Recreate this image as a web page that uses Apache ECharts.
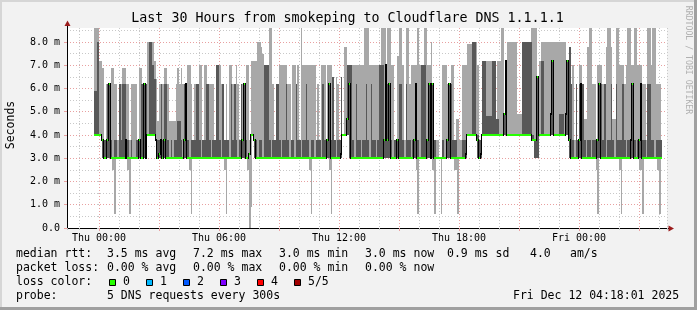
<!DOCTYPE html>
<html><head><meta charset="utf-8">
<script src="https://cdn.jsdelivr.net/npm/echarts@6/dist/echarts.min.js"></script>
<style>html,body{margin:0;padding:0;background:#f2f2f2}#c{width:697px;height:310px}</style>
</head><body><div id="c"></div>
<script>
// Time: hours relative to Thu 00:00; first sample Wed 23:45, one sample every 5 minutes
const startHour = -0.25;
const stepHours = 5 / 60;
const axisMinHour = -1.6, axisMaxHour = 28.4;
const yMaxMs = 8.6;

// Ping values (ms) per 5-minute step, sorted pings: max, 4th, median, 2nd, min
const pingMax = [
8.6,8.6,8.6,7.2,7.2,6.9,3.8,6.2,6.2,6.2,
6.9,6.9,6.2,6.2,3.8,6.2,6.2,6.9,6.9,6.2,
6.2,3.8,6.2,6.2,6.2,6.2,3.8,6.9,6.9,6.2,
6.2,6.2,8.0,8.0,8.0,8.0,7.2,6.4,4.6,6.2,
6.2,6.2,6.9,6.9,6.2,4.6,4.6,4.6,4.6,6.2,
6.9,6.2,6.9,6.2,6.2,6.2,7.0,7.0,6.2,3.8,
6.2,6.2,6.2,7.0,7.0,3.8,7.0,7.0,6.2,6.2,
6.2,6.2,3.8,7.0,7.0,7.0,6.2,6.2,3.8,6.2,
3.8,7.0,7.0,6.2,3.8,7.0,6.2,3.8,6.2,6.2,
6.2,7.0,7.0,3.8,7.2,7.2,7.2,7.2,8.0,8.0,
7.8,7.5,7.0,7.0,7.0,8.6,8.6,6.2,3.8,6.2,
6.2,7.0,7.0,7.0,7.0,7.0,6.2,6.2,3.8,7.0,
7.0,6.2,7.0,3.8,8.6,7.0,7.0,7.0,7.0,7.0,
7.0,7.0,7.0,3.8,6.2,3.8,7.0,7.0,7.0,3.8,
7.0,7.0,7.0,6.5,3.8,6.5,6.2,3.8,6.5,4.0,
7.8,7.8,7.0,7.0,7.0,7.0,7.0,7.0,7.0,7.0,
7.0,7.0,8.6,8.6,8.6,7.0,7.0,7.0,7.0,7.0,
7.0,7.0,8.6,8.6,8.6,7.0,8.6,8.6,7.0,7.0,
3.8,3.8,7.4,8.6,8.6,7.0,3.8,8.6,8.6,6.2,
7.0,7.0,7.0,7.0,8.6,7.0,7.0,7.0,8.6,8.6,
7.0,7.0,8.0,6.2,3.8,3.8,3.8,3.0,3.0,7.0,
7.0,7.0,6.2,6.2,7.0,7.0,3.8,4.7,4.7,3.8,
3.8,7.0,7.0,7.0,7.9,7.9,7.9,8.0,8.0,8.0,
7.0,3.8,3.8,7.2,7.2,7.2,7.2,7.2,7.2,7.2,
7.2,4.7,7.2,7.2,8.6,8.6,4.9,7.2,8.0,8.0,
8.0,8.0,8.0,8.0,4.9,4.9,4.9,8.0,8.0,8.0,
8.0,8.0,8.6,8.6,8.6,8.6,6.5,7.2,8.0,8.0,
8.0,8.0,8.0,8.0,8.0,8.0,8.0,8.0,8.0,8.0,
8.0,8.0,8.0,7.2,7.2,7.8,6.2,7.0,3.8,6.2,
3.8,7.0,7.0,6.2,4.7,4.7,7.8,8.6,8.6,6.2,
6.2,3.8,7.0,7.0,7.0,6.2,6.2,7.8,8.6,8.6,
7.8,4.7,4.7,8.6,8.6,7.0,7.0,7.0,6.2,7.0,
8.6,8.6,7.0,7.0,8.6,8.6,7.0,7.0,7.0,6.2,
6.2,3.8,8.6,8.6,7.0,8.6,8.6,6.2,6.2,6.2,
3.8];
const pingQ3 = [
5.9,5.9,8.0,4.0,4.0,3.8,3.8,3.8,6.2,6.2,
3.8,3.0,3.8,3.8,3.0,6.2,3.8,6.2,6.2,3.8,
3.8,3.0,3.8,3.0,3.0,3.8,3.8,3.8,6.2,6.2,
6.2,6.2,4.0,8.0,8.0,7.0,6.4,3.8,3.8,3.8,
6.2,3.8,6.2,6.2,3.8,3.0,3.8,3.0,3.8,3.8,
4.6,4.6,3.8,3.0,6.2,6.2,3.8,3.0,3.8,3.8,
3.8,6.2,6.2,3.8,3.0,3.8,3.8,6.2,6.2,3.8,
3.0,3.8,3.8,7.0,7.0,3.8,3.0,6.2,3.8,3.8,
3.8,3.0,6.2,3.8,6.2,3.8,3.0,3.8,6.2,3.8,
6.2,3.8,3.0,3.2,4.0,4.0,3.8,3.8,3.0,3.8,
3.8,3.0,7.0,7.0,7.0,3.8,3.0,3.8,3.8,6.2,
6.2,3.8,3.0,3.8,3.8,6.2,3.8,3.0,3.8,3.8,
3.0,6.2,3.8,3.8,3.0,3.8,3.8,6.2,3.8,3.0,
3.8,3.8,3.0,3.8,3.8,3.8,3.0,6.2,3.8,3.8,
3.8,6.2,3.8,6.5,3.8,3.0,3.8,3.8,6.5,4.0,
4.0,4.7,7.0,7.0,7.0,3.8,3.0,6.2,3.8,3.8,
3.0,3.8,3.8,6.2,3.8,3.0,6.2,3.8,3.8,3.0,
3.8,7.0,7.0,7.0,3.8,7.0,6.2,6.2,3.8,3.0,
3.8,3.8,3.8,6.2,6.2,3.8,3.0,6.2,3.8,3.8,
3.0,3.8,3.8,6.2,3.8,3.0,7.0,7.0,7.0,3.8,
3.8,6.2,6.2,6.2,3.8,3.0,3.0,3.0,3.0,3.8,
3.0,3.8,3.8,6.2,6.2,3.8,3.8,3.8,3.0,3.0,
3.0,3.8,3.8,3.2,4.0,4.0,4.0,8.0,8.0,4.0,
4.0,3.8,3.8,7.2,7.2,4.8,4.8,4.8,4.8,7.2,
7.2,4.7,4.7,4.0,4.0,4.0,4.9,7.2,4.0,4.0,
4.0,4.0,4.0,4.0,4.0,4.0,4.0,8.0,8.0,8.0,
8.0,8.0,8.0,4.0,3.8,3.8,6.5,4.0,7.2,7.2,
4.0,4.0,4.0,4.0,4.9,7.2,4.0,4.0,4.0,4.9,
4.9,4.9,4.0,7.2,7.2,7.8,6.2,3.8,3.0,6.2,
3.8,6.2,6.2,6.2,3.8,3.0,3.8,3.8,3.0,3.8,
3.8,3.8,3.8,6.2,6.2,3.8,6.2,3.0,3.8,3.8,
6.2,3.8,3.0,6.2,3.8,3.8,3.8,6.2,3.8,3.0,
3.8,3.8,3.8,6.2,3.8,3.0,3.8,3.8,6.2,3.8,
3.8,3.0,6.2,6.2,3.8,3.8,3.0,3.8,3.8,3.8,
3.8];
const pingMedian = [
4.0,4.0,4.0,4.0,4.0,3.8,3.0,3.0,3.8,6.2,
3.0,3.0,3.0,3.0,3.0,3.0,3.0,3.0,3.0,3.8,
3.0,3.0,3.0,3.0,3.0,3.0,3.0,3.8,3.0,3.0,
6.2,3.0,4.0,4.0,4.0,4.0,4.0,3.8,3.0,3.2,
3.8,3.0,3.8,3.0,3.0,3.0,3.0,3.0,3.0,3.0,
3.0,3.0,3.0,3.0,3.8,6.2,3.0,3.0,3.0,3.0,
3.0,3.0,3.0,3.0,3.0,3.0,3.0,3.0,3.0,3.0,
3.0,3.0,3.0,3.0,3.0,3.0,3.0,3.0,3.0,3.0,
3.0,3.0,3.0,3.0,3.0,3.0,3.0,3.0,3.0,3.8,
6.2,3.0,3.0,3.2,4.0,4.0,3.8,3.0,3.0,3.0,
3.0,3.0,3.0,3.0,3.0,3.0,3.0,3.0,3.0,3.0,
3.0,3.0,3.0,3.0,3.0,3.0,3.0,3.0,3.0,3.0,
3.0,3.0,3.0,3.0,3.0,3.0,3.0,3.0,3.0,3.0,
3.0,3.0,3.0,3.0,3.0,3.0,3.0,3.0,3.0,3.0,
3.8,6.2,3.0,3.0,3.0,3.0,3.0,3.0,3.2,4.0,
4.0,4.0,4.7,6.2,3.0,3.0,3.0,3.0,3.0,3.0,
3.0,3.0,3.0,3.0,3.0,3.0,3.0,3.0,3.0,3.0,
3.0,3.0,3.0,3.0,3.8,7.0,3.8,6.2,3.0,3.0,
3.0,3.0,3.8,3.0,3.0,3.0,3.0,3.0,3.0,3.0,
3.0,3.0,3.8,6.2,3.0,3.0,3.0,3.0,3.0,3.0,
3.8,6.2,3.0,6.2,3.0,3.0,3.0,3.0,3.0,3.0,
3.0,3.0,3.8,6.2,3.0,3.0,3.0,3.0,3.0,3.0,
3.0,3.0,3.0,3.2,4.0,4.0,4.0,4.0,4.0,4.0,
3.8,3.0,3.2,4.0,4.0,4.0,4.0,4.0,4.0,4.0,
4.0,4.0,4.0,4.0,4.0,4.0,4.9,7.2,4.0,4.0,
4.0,4.0,4.0,4.0,4.0,4.0,4.0,4.0,4.0,4.0,
4.0,4.0,4.0,3.8,3.8,3.8,6.5,4.0,4.0,4.0,
4.0,4.0,4.0,4.0,4.9,7.2,4.0,4.0,4.0,4.0,
4.0,4.0,4.0,4.9,7.2,3.8,3.0,3.0,3.0,3.0,
3.0,3.8,6.2,3.0,3.0,3.0,3.0,3.0,3.0,3.0,
3.0,3.0,3.8,6.2,3.0,3.0,3.0,3.0,3.0,3.0,
3.0,3.0,3.0,3.0,3.0,3.0,3.0,3.0,3.0,3.0,
3.0,3.0,3.8,6.2,3.0,3.0,3.0,3.8,6.2,3.0,
3.0,3.0,3.0,3.0,3.0,3.0,3.0,3.0,3.0,3.0,
3.0];
const pingQ1 = [
4.0,4.0,4.0,4.0,4.0,3.0,3.0,3.0,3.0,3.0,
3.0,3.0,3.0,3.0,3.0,3.0,3.0,3.0,3.0,3.0,
3.0,3.0,3.0,3.0,3.0,3.0,3.0,3.0,3.0,3.0,
3.0,3.0,4.0,4.0,4.0,4.0,4.0,3.0,3.0,3.0,
3.0,3.0,3.0,3.0,3.0,3.0,3.0,3.0,3.0,3.0,
3.0,3.0,3.0,3.0,3.0,3.0,3.0,3.0,3.0,3.0,
3.0,3.0,3.0,3.0,3.0,3.0,3.0,3.0,3.0,3.0,
3.0,3.0,3.0,3.0,3.0,3.0,3.0,3.0,3.0,3.0,
3.0,3.0,3.0,3.0,3.0,3.0,3.0,3.0,3.0,3.0,
3.0,3.0,3.0,3.2,4.0,4.0,3.0,3.0,3.0,3.0,
3.0,3.0,3.0,3.0,3.0,3.0,3.0,3.0,3.0,3.0,
3.0,3.0,3.0,3.0,3.0,3.0,3.0,3.0,3.0,3.0,
3.0,3.0,3.0,3.0,3.0,3.0,3.0,3.0,3.0,3.0,
3.0,3.0,3.0,3.0,3.0,3.0,3.0,3.0,3.0,3.0,
3.0,3.0,3.0,3.0,3.0,3.0,3.0,3.0,3.0,4.0,
4.0,4.0,4.0,3.0,3.0,3.0,3.0,3.0,3.0,3.0,
3.0,3.0,3.0,3.0,3.0,3.0,3.0,3.0,3.0,3.0,
3.0,3.0,3.0,3.0,3.0,3.0,3.0,3.0,3.0,3.0,
3.0,3.0,3.0,3.0,3.0,3.0,3.0,3.0,3.0,3.0,
3.0,3.0,3.0,3.0,3.0,3.0,3.0,3.0,3.0,3.0,
3.0,3.0,3.0,3.0,3.0,3.0,3.0,3.0,3.0,3.0,
3.0,3.0,3.0,3.0,3.0,3.0,3.0,3.0,3.0,3.0,
3.0,3.0,3.0,3.0,4.0,4.0,4.0,4.0,4.0,4.0,
3.0,3.0,3.0,4.0,4.0,4.0,4.0,4.0,4.0,4.0,
4.0,4.0,4.0,4.0,4.0,4.0,4.0,4.0,4.0,4.0,
4.0,4.0,4.0,4.0,4.0,4.0,4.0,4.0,4.0,4.0,
4.0,4.0,4.0,3.8,3.0,3.0,3.0,4.0,4.0,4.0,
4.0,4.0,4.0,4.0,4.0,4.0,4.0,4.0,4.0,4.0,
4.0,4.0,4.0,4.0,4.0,3.0,3.0,3.0,3.0,3.0,
3.0,3.0,3.0,3.0,3.0,3.0,3.0,3.0,3.0,3.0,
3.0,3.0,3.0,3.0,3.0,3.0,3.0,3.0,3.0,3.0,
3.0,3.0,3.0,3.0,3.0,3.0,3.0,3.0,3.0,3.0,
3.0,3.0,3.0,3.0,3.0,3.0,3.0,3.0,3.0,3.0,
3.0,3.0,3.0,3.0,3.0,3.0,3.0,3.0,3.0,3.0,
3.0];
const pingMin = [
4.0,4.0,4.0,4.0,4.0,3.0,3.0,3.0,3.0,3.0,
3.0,2.5,0.6,3.0,3.0,3.0,3.0,3.0,3.0,3.0,
2.5,0.6,3.0,3.0,3.0,3.0,3.0,3.0,3.0,3.0,
3.0,3.0,4.0,4.0,4.0,4.0,4.0,3.0,3.0,3.0,
3.0,3.0,3.0,3.0,3.0,3.0,3.0,3.0,3.0,3.0,
3.0,3.0,3.0,3.0,3.0,3.0,3.0,2.5,0.6,3.0,
3.0,3.0,3.0,3.0,3.0,3.0,3.0,3.0,3.0,3.0,
3.0,3.0,3.0,3.0,3.0,3.0,3.0,3.0,2.5,0.6,
3.0,3.0,3.0,3.0,3.0,3.0,3.0,3.0,3.0,3.0,
3.0,3.0,2.5,0.0,0.9,4.0,3.0,3.0,3.0,3.0,
3.0,3.0,3.0,3.0,3.0,3.0,3.0,3.0,3.0,3.0,
3.0,3.0,3.0,3.0,3.0,3.0,3.0,3.0,3.0,3.0,
3.0,3.0,3.0,3.0,3.0,3.0,3.0,3.0,3.0,2.5,
0.6,3.0,3.0,3.0,3.0,3.0,3.0,3.0,3.0,3.0,
3.0,2.5,0.6,3.0,3.0,3.0,3.0,3.0,3.0,4.0,
4.0,4.0,4.0,3.0,3.0,3.0,3.0,3.0,3.0,3.0,
3.0,3.0,3.0,3.0,3.0,3.0,3.0,3.0,3.0,3.0,
3.0,3.0,3.0,3.0,3.0,3.0,3.0,3.0,3.0,3.0,
3.0,3.0,3.0,3.0,3.0,3.0,3.0,3.0,3.0,3.0,
3.0,3.0,3.0,2.5,0.6,3.0,3.0,3.0,3.0,3.0,
3.0,3.0,3.0,2.5,0.6,3.0,3.0,3.0,0.6,3.0,
3.0,3.0,3.0,3.0,3.0,3.0,2.5,2.5,0.6,3.0,
3.0,3.0,3.0,3.0,4.0,4.0,4.0,4.0,4.0,4.0,
3.0,3.0,3.0,4.0,4.0,4.0,4.0,4.0,4.0,4.0,
4.0,4.0,4.0,4.0,4.0,4.0,4.0,4.0,4.0,4.0,
4.0,4.0,4.0,4.0,4.0,4.0,4.0,4.0,4.0,4.0,
4.0,4.0,4.0,3.8,3.0,3.0,3.0,4.0,4.0,4.0,
4.0,4.0,4.0,4.0,4.0,4.0,4.0,4.0,4.0,4.0,
4.0,4.0,4.0,4.0,4.0,3.0,3.0,3.0,3.0,3.0,
3.0,3.0,3.0,3.0,3.0,3.0,3.0,3.0,3.0,3.0,
3.0,2.5,0.6,3.0,3.0,3.0,3.0,3.0,3.0,3.0,
3.0,3.0,3.0,3.0,3.0,2.5,0.6,3.0,3.0,3.0,
3.0,3.0,3.0,3.0,3.0,3.0,3.0,2.5,2.5,0.6,
3.0,3.0,3.0,3.0,3.0,3.0,3.0,3.0,2.5,0.6,
3.0];

// Axis tick labels
const timeTickLabels = {0: 'Thu 00:00', 6: 'Thu 06:00', 12: 'Thu 12:00', 18: 'Thu 18:00', 24: 'Fri 00:00'};
// Legend
const lossColors = ['#26ff00', '#00b8ff', '#0059ff', '#7e00ff', '#ff0000', '#a10000'];
const lossLabels = ['0', '1', '2', '3', '4', '5/5'];
const statLine1 = ['median rtt:', '3.5 ms avg', '7.2 ms max', '3.0 ms min', '3.0 ms now', '0.9 ms sd', '4.0', 'am/s'];
const statLine2 = ['packet loss:', '0.00 % avg', '0.00 % max', '0.00 % min', '0.00 % now'];
const probeText = ['probe:', '5 DNS requests every 300s'];
const dateText = 'Fri Dec 12 04:18:01 2025';
const titleText = 'Last 30 Hours from smokeping to Cloudflare DNS 1.1.1.1';

const MONO = '"DejaVu Sans Mono", monospace';
const LIGHT = '#a8a8a8', DARK = '#585858';
const GRID_MINOR = '#c8c8c8', GRID_MAJOR = '#e8a0a0';

const n = pingMedian.length;
const lightData = [], darkData = [], medData = [];
for (let k = 0; k < n; k++) {
  const t0 = startHour + k * stepHours, t1 = t0 + stepHours;
  lightData.push([t0, t1, pingMin[k], pingMax[k]]);
  darkData.push([t0, t1, pingQ1[k], pingQ3[k]]);
  medData.push([t0, t1, pingMedian[k], k > 0 ? pingMedian[k - 1] : pingMedian[k]]);
}

function bandRender(color) {
  return function (params, api) {
    const p0 = api.coord([api.value(0), api.value(3)]);
    const p1 = api.coord([api.value(1), api.value(2)]);
    const x0 = Math.round(p0[0]), x1 = Math.round(p1[0]);
    const y0 = Math.round(p0[1]), y1 = Math.round(p1[1]);
    if (y1 - y0 <= 0 || x1 - x0 <= 0) return {type: 'group', children: []};
    return {type: 'rect', shape: {x: x0, y: y0, width: x1 - x0, height: y1 - y0}, style: {fill: color}};
  };
}
function medianRender(params, api) {
  const a = api.coord([api.value(0), api.value(2)]);
  const b = api.coord([api.value(1), api.value(2)]);
  const p = api.coord([api.value(0), api.value(3)]);
  const x0 = Math.round(a[0]), x1 = Math.round(b[0]);
  const y = Math.round(a[1]), yp = Math.round(p[1]);
  const children = [];
  if (yp !== y) {
    children.push({type: 'rect', shape: {x: x0 - 1, y: Math.min(y, yp) - 1, width: 1, height: Math.abs(y - yp) + 2}, style: {fill: '#000'}});
  }
  children.push({type: 'rect', shape: {x: x0, y: y - 1, width: Math.max(1, x1 - x0), height: 2}, style: {fill: lossColors[0]}});
  return {type: 'group', children};
}

const chart = echarts.init(document.getElementById('c'), null, {renderer: 'canvas', width: 697, height: 310});

const hidden = {show: false};
const option = {
  animation: false,
  backgroundColor: '#f2f2f2',
  grid: {left: 67, right: 30, top: 28, bottom: 82, show: true, backgroundColor: '#ffffff', borderWidth: 0},
  xAxis: [
    { // minor grid: 1 hour
      type: 'value', min: axisMinHour, max: axisMaxHour, splitNumber: 30, position: 'bottom',
      axisLine: hidden, axisLabel: hidden,
      axisTick: {show: true, length: 2, lineStyle: {color: GRID_MINOR}},
      splitLine: {show: true, showMinLine: false, showMaxLine: true, lineStyle: {color: GRID_MINOR, type: [1, 2], width: 1}}
    },
    { // major grid: 3 hours, labels every 6 hours
      type: 'value', min: axisMinHour, max: axisMaxHour, splitNumber: 10, position: 'bottom',
      axisLine: {show: true, onZero: false, lineStyle: {color: '#000', width: 1}},
      axisTick: {show: true, length: 3, lineStyle: {color: GRID_MAJOR}},
      axisLabel: {
        show: true, margin: 5, color: '#000', fontSize: 10, fontFamily: MONO,
        showMinLabel: false, showMaxLabel: false,
        formatter: v => { const key = Math.round(v * 1000) / 1000; return timeTickLabels[key] !== undefined ? timeTickLabels[key] : ''; }
      },
      splitLine: {show: true, showMinLine: false, showMaxLine: false, lineStyle: {color: GRID_MAJOR, type: [1, 2], width: 1}}
    }
  ],
  yAxis: [
    { // minor: 0.5 ms
      type: 'value', min: 0, max: yMaxMs, splitNumber: 17, position: 'left',
      axisLine: hidden, axisLabel: hidden,
      axisTick: {show: true, length: 2, lineStyle: {color: GRID_MINOR}},
      splitLine: {show: true, showMinLine: false, showMaxLine: false, lineStyle: {color: GRID_MINOR, type: [1, 2], width: 1}}
    },
    { // major: 1 ms
      type: 'value', min: 0, max: yMaxMs, splitNumber: 9, position: 'left',
      axisLine: {show: true, onZero: false, lineStyle: {color: '#000', width: 1}},
      axisTick: {show: true, length: 3, lineStyle: {color: GRID_MAJOR}},
      axisLabel: {
        show: true, margin: 7, color: '#000', fontSize: 10, fontFamily: MONO, showMaxLabel: false,
        formatter: v => (Math.abs(v - Math.round(v)) < 1e-6) ? (v === 0 ? '0.0' : v.toFixed(1) + ' m') : ''
      },
      splitLine: {show: true, showMinLine: false, showMaxLine: false, lineStyle: {color: GRID_MAJOR, type: [1, 2], width: 1}}
    }
  ],
  series: [
    {type: 'custom', name: 'smoke outer', xAxisIndex: 1, yAxisIndex: 1, clip: true, silent: true,
     encode: {x: [0, 1], y: [2, 3]}, data: lightData, renderItem: bandRender(LIGHT), z: 2},
    {type: 'custom', name: 'smoke inner', xAxisIndex: 1, yAxisIndex: 1, clip: true, silent: true,
     encode: {x: [0, 1], y: [2, 3]}, data: darkData, renderItem: bandRender(DARK), z: 3},
    {type: 'custom', name: 'median rtt', xAxisIndex: 1, yAxisIndex: 1, clip: true, silent: true,
     encode: {x: [0, 1], y: [2, 3]}, data: medData, renderItem: medianRender, z: 4}
  ]
};
chart.setOption(option);

// decorations
const origin = chart.convertToPixel({seriesIndex: 0}, [axisMinHour, 0]);
const topLeft = chart.convertToPixel({seriesIndex: 0}, [axisMinHour, yMaxMs]);
const botRight = chart.convertToPixel({seriesIndex: 0}, [axisMaxHour, 0]);
const ax = Math.round(origin[0]) + 0.5, ay = Math.round(origin[1]) + 0.5;
const ty = Math.round(topLeft[1]);
const rx = Math.round(botRight[0]);
const ARROW = '#9b1c1c';

const g = [];
// frame
g.push({type: 'rect', shape: {x: 0, y: 0, width: 697, height: 2}, style: {fill: '#d6d6d6'}, silent: true});
g.push({type: 'rect', shape: {x: 0, y: 0, width: 2, height: 310}, style: {fill: '#d6d6d6'}, silent: true});
g.push({type: 'rect', shape: {x: 0, y: 307, width: 697, height: 3}, style: {fill: '#a0a0a0'}, silent: true});
g.push({type: 'rect', shape: {x: 694, y: 0, width: 3, height: 310}, style: {fill: '#a0a0a0'}, silent: true});
// axis arrows
g.push({type: 'line', shape: {x1: ax, y1: ty, x2: ax, y2: ty - 3}, style: {stroke: '#000', lineWidth: 1}, silent: true});
g.push({type: 'polygon', shape: {points: [[ax - 3, ty - 2], [ax + 3, ty - 2], [ax, ty - 7.5]]}, style: {fill: ARROW}, silent: true});
g.push({type: 'line', shape: {x1: rx, y1: ay, x2: rx + 2, y2: ay}, style: {stroke: '#000', lineWidth: 1}, silent: true});
g.push({type: 'polygon', shape: {points: [[rx + 1.5, ay - 3], [rx + 1.5, ay + 3], [rx + 7, ay]]}, style: {fill: ARROW}, silent: true});
// title, axis title, watermark
g.push({type: 'text', x: 347.5, y: 19, style: {text: titleText, font: '13.3px ' + MONO, fill: '#000', textAlign: 'center', textVerticalAlign: 'middle'}, silent: true});
g.push({type: 'text', x: 11, y: 125, rotation: Math.PI / 2, style: {text: 'Seconds', font: '11.5px ' + MONO, fill: '#000', textAlign: 'center', textVerticalAlign: 'middle'}, silent: true});
g.push({type: 'text', x: 688, y: 60, rotation: -Math.PI / 2, style: {text: 'RRDTOOL / TOBI OETIKER', font: '8.2px ' + MONO, fill: '#b0b0b0', textAlign: 'center', textVerticalAlign: 'middle'}, silent: true});
// legend text
const LF = '11.5px ' + MONO;
const line1X = [16, 107, 193, 279, 365, 447, 530, 570];
statLine1.forEach((t, i) => g.push({type: 'text', x: line1X[i], y: 254.5, style: {text: t, font: LF, fill: '#000', textVerticalAlign: 'middle'}, silent: true}));
const line2X = [16, 107, 193, 279, 365];
statLine2.forEach((t, i) => g.push({type: 'text', x: line2X[i], y: 268.5, style: {text: t, font: LF, fill: '#000', textVerticalAlign: 'middle'}, silent: true}));
g.push({type: 'text', x: 16, y: 282.5, style: {text: 'loss color:', font: LF, fill: '#000', textVerticalAlign: 'middle'}, silent: true});
lossColors.forEach((c, i) => {
  const bx = 109 + i * 36.9;
  g.push({type: 'rect', shape: {x: Math.round(bx) + 0.5, y: 279.5, width: 6, height: 6}, style: {fill: c, stroke: '#000', lineWidth: 1}, silent: true});
  g.push({type: 'text', x: Math.round(bx) + 14, y: 282.5, style: {text: lossLabels[i], font: LF, fill: '#000', textVerticalAlign: 'middle'}, silent: true});
});
g.push({type: 'text', x: 16, y: 296.5, style: {text: probeText[0], font: LF, fill: '#000', textVerticalAlign: 'middle'}, silent: true});
g.push({type: 'text', x: 107, y: 296.5, style: {text: probeText[1], font: LF, fill: '#000', textVerticalAlign: 'middle'}, silent: true});
g.push({type: 'text', x: 513, y: 296.5, style: {text: dateText, font: LF, fill: '#000', textVerticalAlign: 'middle'}, silent: true});

chart.setOption({graphic: {elements: g}});
</script>
</body></html>
